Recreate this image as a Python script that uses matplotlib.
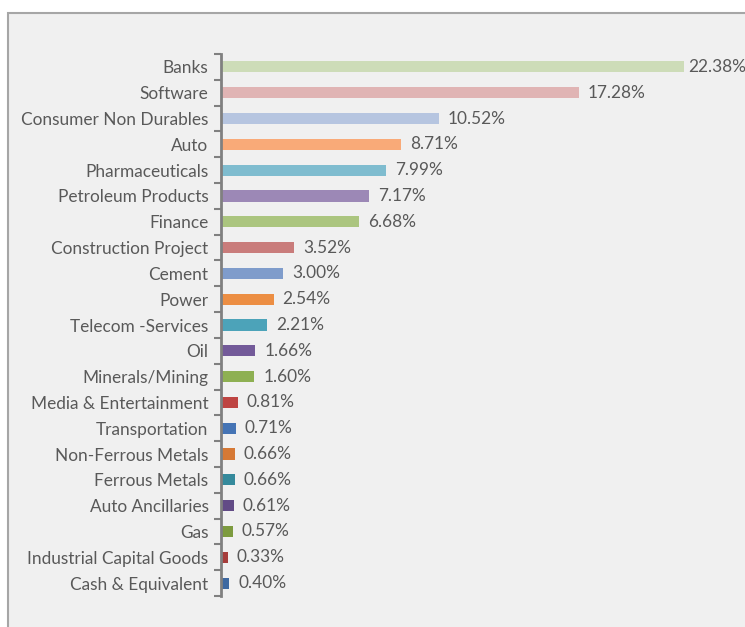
import matplotlib
matplotlib.use("Agg")
import matplotlib.pyplot as plt
from matplotlib.patches import Rectangle

sectors = [
    "Banks", "Software", "Consumer Non Durables", "Auto", "Pharmaceuticals",
    "Petroleum Products", "Finance", "Construction Project", "Cement", "Power",
    "Telecom -Services", "Oil", "Minerals/Mining", "Media & Entertainment",
    "Transportation", "Non-Ferrous Metals", "Ferrous Metals", "Auto Ancillaries",
    "Gas", "Industrial Capital Goods", "Cash & Equivalent",
]
weights = [22.38, 17.28, 10.52, 8.71, 7.99, 7.17, 6.68, 3.52, 3.00, 2.54,
           2.21, 1.66, 1.60, 0.81, 0.71, 0.66, 0.66, 0.61, 0.57, 0.33, 0.40]
colors = [
    "#cddcb8", "#e0b4b4", "#b6c5e0", "#f9aa78", "#7fbccf", "#9c88b6",
    "#abc57f", "#c97c7b", "#7f9ccb", "#ec8e43", "#4ca3b9", "#735a99",
    "#8eb052", "#be4442", "#4574b5", "#d67935", "#358a9c", "#624b86",
    "#7d9b3f", "#a63d3b", "#3e69a1",
]

W, H = 745, 627
fig = plt.figure(figsize=(W / 100, H / 100), dpi=100)
fig.patch.set_facecolor("white")

# chart panel with a border on top and left
fig.patches.append(Rectangle((8 / W, -0.05), 1.1, (H - 13) / H + 0.05,
                             transform=fig.transFigure, facecolor="#f0f0f0",
                             edgecolor="#a6a6a6", linewidth=1.5, zorder=0))

ax_left, ax_right = 221 / W, 1.0
ax_top, ax_bottom = 1 - 54 / H, 1 - 596 / H
ax = fig.add_axes([ax_left, ax_bottom, ax_right - ax_left, ax_top - ax_bottom])
ax.set_zorder(5)
ax.set_facecolor("none")

n = len(sectors)
ypos = list(range(n))
ax.barh(ypos, weights, height=0.43, color=colors, zorder=2)
ax.set_ylim(n - 0.5, -0.5)
xmax = (W - 221) / 20.69
ax.set_xlim(0, xmax)

txt = "#595959"
font = "Lato"
fs = 12.4
ax.set_yticks(ypos)
ax.set_yticklabels(sectors, fontsize=fs, color=txt, family=font)
ax.tick_params(axis="y", which="major", length=0, pad=9)
ax.set_yticks([i - 0.5 for i in range(n + 1)], minor=True)
ax.tick_params(axis="y", which="minor", length=5, width=1.5, color="#808080",
               direction="out")
ax.set_xticks([])

for s in ["top", "right", "bottom"]:
    ax.spines[s].set_visible(False)
ax.spines["left"].set_color("#808080")
ax.spines["left"].set_linewidth(2)

# value labels; the one near the right edge is tucked in closer to its bar
for y, v in zip(ypos, weights):
    gap = 3 if v > 0.85 * xmax else 6.5
    ax.annotate(f"{v:.2f}%", (v, y), xytext=(gap, 0), textcoords="offset points",
                va="center", ha="left", fontsize=fs, color=txt, family=font)

fig.savefig("out.png", dpi=100)
